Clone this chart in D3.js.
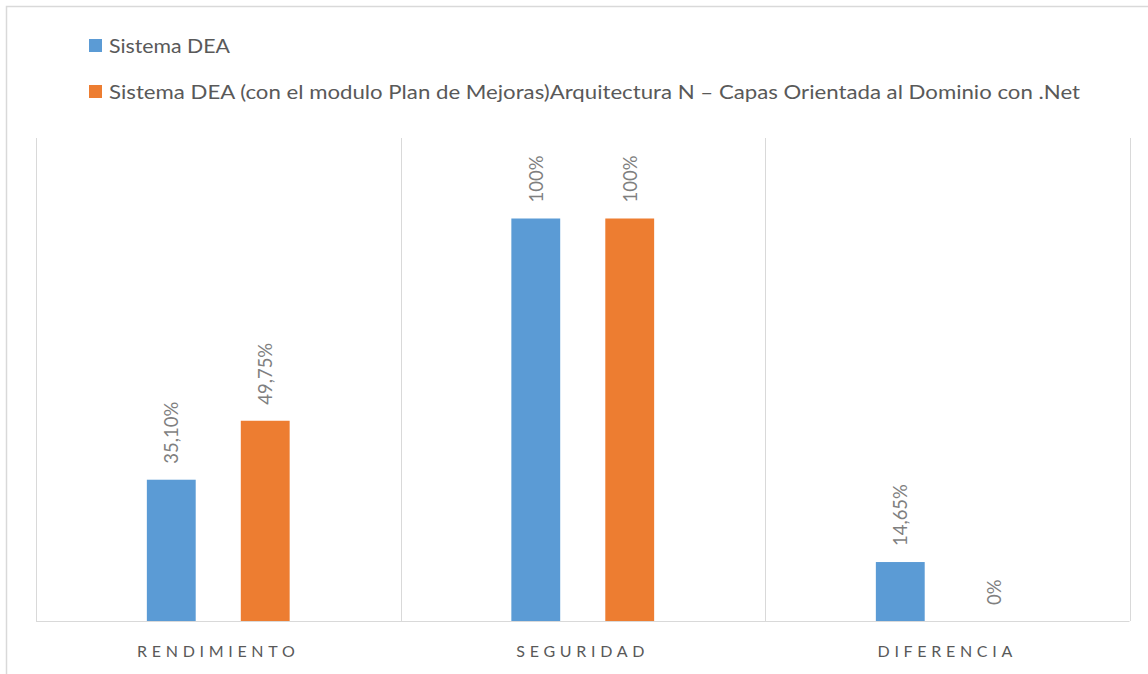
<!DOCTYPE html>
<html><head><meta charset="utf-8">
<script src="https://cdn.jsdelivr.net/npm/d3@7"></script>
<style>body{margin:0;background:#fff}svg{display:block}</style>
</head><body>
<svg id="c" width="1148" height="674"></svg>
<script>
const categories = ["RENDIMIENTO", "SEGURIDAD", "DIFERENCIA"];
const seriesNames = ["Sistema DEA", "Sistema DEA (con el modulo Plan de Mejoras)Arquitectura N – Capas Orientada al Dominio con .Net"];
const seriesA = [0.351, 1.0, 0.1465];
const seriesB = [0.4975, 1.0, 0.0];
const labelsA = ["35,10%", "100%", "14,65%"];
const labelsB = ["49,75%", "100%", "0%"];
const colors = ["#5b9bd5", "#ed7d31"];

(function () {
const svg = d3.select("#c");
const font = "Lato, 'Open Sans', sans-serif";
svg.append("rect").attr("x", 6.5).attr("y", 6.5).attr("width", 1200).attr("height", 700)
  .attr("fill", "#fff").attr("stroke", "#d9d9d9").attr("stroke-width", 1.5);

const pLeft = 36, pRight = 1129.5, pTop = 138, pBottom = 621;
const x = d3.scaleBand().domain(categories).range([pLeft, pRight]).padding(0);
const y = d3.scaleLinear().domain([0, 1.2]).range([pBottom, pTop]);
const x1 = d3.scaleBand().domain([0, 1]).range([0, x.bandwidth()]).paddingInner(0.48).paddingOuter(1.18);

const seps = categories.map(c => x(c)).concat([x(categories[categories.length - 1]) + x.bandwidth()]);
svg.append("g").selectAll("line").data(seps).join("line")
  .attr("x1", d => Math.round(d) + 0.5).attr("x2", d => Math.round(d) + 0.5)
  .attr("y1", pTop).attr("y2", pBottom)
  .attr("stroke", "#d9d9d9").attr("stroke-width", 1);

const data = categories.map((c, i) => ({c, vals: [seriesA[i], seriesB[i]], labs: [labelsA[i], labelsB[i]]}));
const g = svg.append("g").selectAll("g").data(data).join("g")
  .attr("transform", d => `translate(${x(d.c)},0)`);
g.selectAll("rect").data(d => d.vals.map((v, k) => ({v, k}))).join("rect")
  .attr("x", d => x1(d.k)).attr("width", x1.bandwidth())
  .attr("y", d => y(d.v)).attr("height", d => pBottom - y(d.v))
  .attr("fill", d => colors[d.k]);
g.selectAll("text").data(d => d.vals.map((v, k) => ({v, k, lab: d.labs[k]}))).join("text")
  .attr("transform", d => `translate(${x1(d.k) + x1.bandwidth() / 2 + 7},${y(d.v) - 16}) rotate(-90)`)
  .attr("font-family", font).attr("font-size", 18.5).attr("fill", "#7f7f7f")
  .text(d => d.lab);

const ax = svg.append("g").attr("transform", `translate(0,${pBottom})`)
  .call(d3.axisBottom(x).tickSize(0).tickPadding(22));
ax.select(".domain").attr("stroke", "#d9d9d9").attr("d", `M${pLeft},0.5H${pRight}`);
ax.selectAll("text").attr("font-family", font).attr("font-size", 16).attr("fill", "#595959")
  .attr("letter-spacing", "4.7px").attr("dy", "0.9em");

const lg = svg.append("g");
seriesNames.forEach((n, i) => {
  const yy = 39 + i * 46;
  lg.append("rect").attr("x", 89).attr("y", yy).attr("width", 13).attr("height", 13).attr("fill", colors[i]);
  const t = lg.append("text").attr("x", 109).attr("y", yy + 14).attr("font-family", font)
    .attr("font-size", 19.5).attr("fill", "#595959").text(n);
  const target = i === 0 ? 121 : 971;
  t.attr("textLength", target).attr("lengthAdjust", "spacingAndGlyphs");
});
})();
</script>
</body></html>
